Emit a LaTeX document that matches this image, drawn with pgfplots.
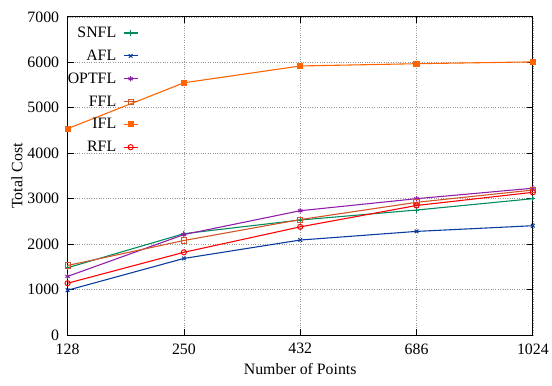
\documentclass[border=0pt]{standalone}
\usepackage{pgfplots}
\pgfplotsset{compat=1.18}
\usepackage{fontspec}
\setmainfont{Liberation Serif}
\definecolor{cSN}{RGB}{0,140,95}
\definecolor{cA}{RGB}{10,60,160}
\definecolor{cOPT}{RGB}{145,30,170}
\definecolor{cF}{RGB}{210,85,40}
\definecolor{cI}{RGB}{255,100,0}
\definecolor{cR}{RGB}{255,0,0}
\begin{document}
\begin{tikzpicture}[font=\fontsize{16}{19}\selectfont]
\begin{axis}[
 scale only axis, width=468bp, height=320bp,
 xmin=0, xmax=4, ymin=0, ymax=7000,
 xtick={0,1,2,3,4}, xticklabels={128,250,432,686,1024},
 ytick={0,1000,...,7000},
 grid=major, grid style={dotted, gray!80, line width=0.7pt},
 tick align=inside, major tick length=6bp,
 tick style={black, line width=0.8pt},
 xlabel={Number of Points}, ylabel={Total Cost},
 /pgf/number format/assume math mode=true,
 /pgf/number format/1000 sep={},
 tick label style={font=\fontsize{16}{19}\selectfont},
 label style={font=\fontsize{16}{19}\selectfont},
 xticklabel shift=5bp, yticklabel shift=5bp,
 ylabel style={yshift=-2bp},
 xlabel style={yshift=-2bp},
 legend style={at={(0.0,1.0)}, anchor=north west, xshift=-5bp, yshift=-6bp, draw=none, fill=none, row sep=7bp, column sep=5bp, font=\fontsize{16}{19}\selectfont},
 legend cell align=right,
 legend plot pos=right,
 legend image code/.code={\draw[mark repeat=2,mark phase=2] plot coordinates {(0bp,0bp) (7bp,0bp) (14bp,0bp)};},
 every axis plot/.append style={line width=1.1pt, mark size=2.6pt, mark options={solid, line width=1pt}},
 axis line style={line width=1pt},
]
\addplot[cSN, mark=+] coordinates {(0,1480) (1,2230) (2,2530) (3,2750) (4,3000)};
\addlegendentry{SNFL}
\addplot[cA, mark=x] coordinates {(0,985) (1,1685) (2,2090) (3,2280) (4,2405)};
\addlegendentry{AFL}
\addplot[cOPT, mark=asterisk] coordinates {(0,1290) (1,2210) (2,2735) (3,3000) (4,3230)};
\addlegendentry{OPTFL}
\addplot[cF, mark=square] coordinates {(0,1530) (1,2080) (2,2540) (3,2920) (4,3190)};
\addlegendentry{FFL}
\addplot[cI, mark=square*] coordinates {(0,4540) (1,5550) (2,5920) (3,5970) (4,6010)};
\addlegendentry{IFL}
\addplot[cR, mark=o] coordinates {(0,1140) (1,1820) (2,2380) (3,2850) (4,3140)};
\addlegendentry{RFL}
\end{axis}
\path ([shift={(-68bp,-51bp)}]current axis.south west) rectangle ([shift={(16bp,17bp)}]current axis.north east);
\end{tikzpicture}
\end{document}
